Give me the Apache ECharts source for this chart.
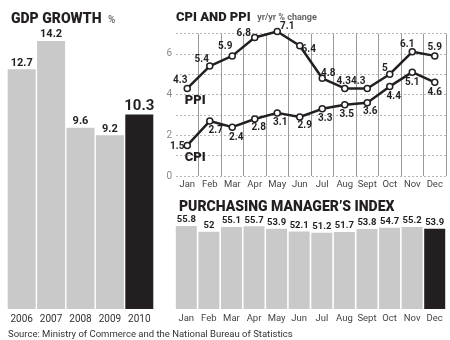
<!DOCTYPE html>
<html><head><meta charset="utf-8">
<script src="https://cdn.jsdelivr.net/npm/echarts@6/dist/echarts.min.js"></script>
<style>html,body{margin:0;padding:0;background:#fff}#c{width:450px;height:340px}</style>
</head><body><div id="c"></div>
<script>
const gdpYears = ['2006', '2007', '2008', '2009', '2010'];
const gdpValues = [12.7, 14.2, 9.6, 9.2, 10.3];
const months = ['Jan', 'Feb', 'Mar', 'Apr', 'May', 'Jun', 'Jul', 'Aug', 'Sept', 'Oct', 'Nov', 'Dec'];
const ppiValues = [4.3, 5.4, 5.9, 6.8, 7.1, 6.4, 4.8, 4.3, 4.3, 5, 6.1, 5.9];
const cpiValues = [1.5, 2.7, 2.4, 2.8, 3.1, 2.9, 3.3, 3.5, 3.6, 4.4, 5.1, 4.6];
const pmiValues = [55.8, 52, 55.1, 55.7, 53.9, 52.1, 51.2, 51.7, 53.8, 54.7, 55.2, 53.9];
const cpiTickLabels = [0, 2, 4, 6];

// label styling (kept apart from data)
const ppiLabelOffsets = [[-7,-8],[-8,-7],[-7,-9],[-11,-4],[10,-5],[9,4],[6,-5],[-1,-7],[-9,-7],[-5,-6],[-5,-7],[0,-8]];
const cpiLabelOffsets = [[-10,1],[6,9],[4,10],[4,8],[3,10],[5,9],[3,10],[2,10],[3,9],[4,10],[0,10],[0,10]];

const GRAY = '#c9c9c9', DARK = '#231f20';
const FONT = 'Roboto, "Liberation Sans", sans-serif';
const BOLD = '"Roboto", "Liberation Sans", sans-serif';

function barData(vals, big) {
  return vals.map((v, i) => {
    const last = i === vals.length - 1;
    const d = { value: v, itemStyle: { color: last ? DARK : GRAY } };
    if (last && big) d.label = { fontSize: 15 };
    return d;
  });
}
function lineData(vals, offs) {
  return vals.map((v, i) => ({ value: v, label: { offset: offs[i] } }));
}

const chart = echarts.init(document.getElementById('c'), null, { renderer: 'canvas' });
chart.setOption({
  animation: false,
  backgroundColor: '#fff',
  textStyle: { fontFamily: FONT },
  title: [
    { text: '{a|GDP GROWTH} {b|%}', left: 6, top: 5,
      textStyle: { rich: {
        a: { fontFamily: BOLD, fontWeight: 900, fontSize: 14, color: DARK },
        b: { fontFamily: FONT, fontSize: 10, color: '#777', padding: [2, 0, 0, 2] } } } },
    { text: '{a|CPI AND PPI} {b|yr/yr % change}', left: 171, top: 4,
      textStyle: { rich: {
        a: { fontFamily: BOLD, fontWeight: 900, fontSize: 13, color: DARK },
        b: { fontFamily: FONT, fontSize: 9, color: '#666', padding: [0, 0, 0, 2] } } } },
    { text: 'PURCHASING MANAGER\u2019S INDEX', left: 174, top: 195,
      textStyle: { fontFamily: BOLD, fontWeight: 900, fontSize: 14, color: DARK } },
    { text: 'Source: Ministry of Commerce and the National Bureau of Statistics', left: 3, top: 325,
      textStyle: { fontFamily: FONT, fontWeight: 'normal', fontSize: 9.5, color: '#333' } }
  ],
  grid: [
    { left: 7, width: 147, top: 41, bottom: 31 },
    { left: 176, right: 4, top: 33.5, height: 142.5 },
    { left: 175, right: 4, top: 226, bottom: 31 }
  ],
  xAxis: [
    { gridIndex: 0, type: 'category', data: gdpYears, axisLine: { show: false }, axisTick: { show: false },
      axisLabel: { margin: 5, fontSize: 10, color: '#333' } },
    { gridIndex: 1, type: 'category', data: months, axisLine: { show: false }, axisTick: { show: false },
      axisLabel: { interval: 0, hideOverlap: false, margin: 4, fontSize: 9.5, color: '#444' },
      splitLine: { show: true, interval: (i) => i !== 0, lineStyle: { color: '#9a9a9a', width: 1 } } },
    { gridIndex: 2, type: 'category', data: months, axisLine: { show: false }, axisTick: { show: false },
      axisLabel: { interval: 0, hideOverlap: false, margin: 5, fontSize: 9.5, color: '#444' } }
  ],
  yAxis: [
    { gridIndex: 0, type: 'value', min: 0, max: 14.2, show: false },
    { gridIndex: 1, type: 'value', min: 0, max: 7, interval: 1,
      axisLine: { show: false }, axisTick: { show: false },
      axisLabel: { margin: 4, fontSize: 10, color: '#8a8a8a',
        formatter: (v) => cpiTickLabels.includes(v) ? String(v) : '' },
      splitLine: { show: true, lineStyle: { color: '#b5b5b5', type: [2, 2], width: 1 } } },
    { gridIndex: 2, type: 'value', min: 0, max: 55.8, show: false }
  ],
  series: [
    { type: 'bar', xAxisIndex: 0, yAxisIndex: 0, data: barData(gdpValues, true), barWidth: 28,
      label: { show: true, position: 'top', distance: 1, fontFamily: BOLD, fontWeight: 'bold', fontSize: 11, color: DARK } },
    { type: 'line', xAxisIndex: 1, yAxisIndex: 1, data: lineData(ppiValues, ppiLabelOffsets), clip: false,
      symbol: 'circle', symbolSize: 6, lineStyle: { color: DARK, width: 2.5 },
      itemStyle: { color: '#fff', borderColor: DARK, borderWidth: 1.5 },
      label: { show: true, position: 'inside', fontFamily: BOLD, fontWeight: 'bold', fontSize: 10, color: DARK },
      markPoint: { symbol: 'circle', symbolSize: 0, silent: true,
        label: { show: true, position: 'inside', formatter: 'PPI', fontFamily: BOLD, fontWeight: 900, fontSize: 13, color: DARK, offset: [8, 0] },
        data: [{ coord: ['Jan', 3.7] }] } },
    { type: 'line', xAxisIndex: 1, yAxisIndex: 1, data: lineData(cpiValues, cpiLabelOffsets), clip: false,
      symbol: 'circle', symbolSize: 6, lineStyle: { color: DARK, width: 2.5 },
      itemStyle: { color: '#fff', borderColor: DARK, borderWidth: 1.5 },
      label: { show: true, position: 'inside', fontFamily: BOLD, fontWeight: 'bold', fontSize: 10, color: DARK },
      markPoint: { symbol: 'circle', symbolSize: 0, silent: true,
        label: { show: true, position: 'inside', formatter: 'CPI', fontFamily: BOLD, fontWeight: 900, fontSize: 13, color: DARK, offset: [8, 0] },
        data: [{ coord: ['Jan', 0.9] }] } },
    { type: 'bar', xAxisIndex: 2, yAxisIndex: 2, data: barData(pmiValues, false), barWidth: 21,
      label: { show: true, position: 'top', distance: 1, fontFamily: BOLD, fontWeight: 'bold', fontSize: 9.5, color: DARK } }
  ]
});
</script>
</body></html>
